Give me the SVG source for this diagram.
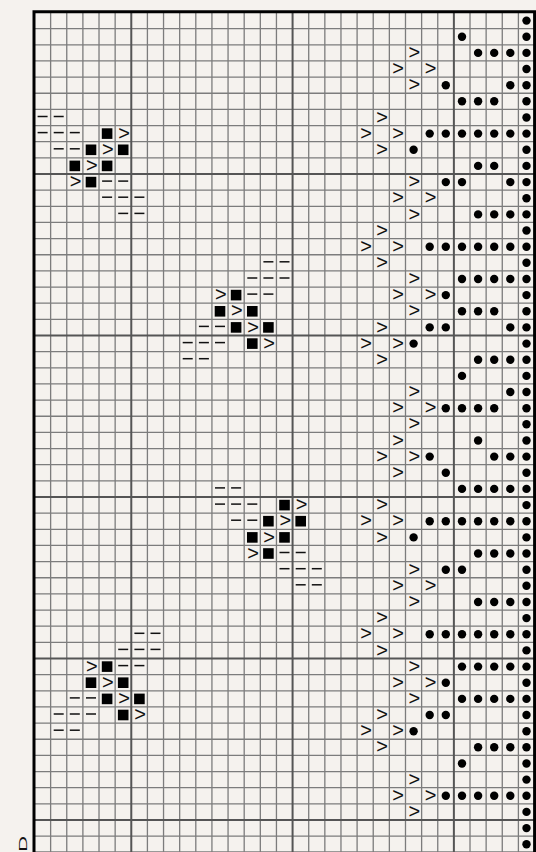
<svg xmlns="http://www.w3.org/2000/svg" xmlns:xlink="http://www.w3.org/1999/xlink" width="536" height="852" viewBox="0 0 536 852">
<style>
.thin{fill:none;stroke:#7c7c7c;stroke-width:1.3}
.thick{fill:none;stroke:#555;stroke-width:2}
.border{fill:none;stroke:#000;stroke-width:3}
.k{font-family:"Liberation Sans",Arial,sans-serif;font-size:20px;text-anchor:middle;fill:#111}
.lbl{font-family:"Liberation Sans",Arial,sans-serif;font-size:11.6px;text-anchor:middle;fill:#111}
</style>
<defs>
<circle id="d" r="4.2" fill="#000"/>
<rect id="s" x="-5.3" y="-5.3" width="10.6" height="10.6" fill="#000"/>
<line id="m" x1="-5" y1="-1" x2="5" y2="-1" stroke="#111" stroke-width="1.5"/>
</defs>
<rect width="536" height="852" fill="#F5F2EE"/>
<g id="grid">
<path class="thin" d="M34.5 28.65H534.5M34.5 44.8H534.5M34.5 60.95H534.5M34.5 77.1H534.5M34.5 93.25H534.5M34.5 109.4H534.5M34.5 125.55H534.5M34.5 141.7H534.5M34.5 157.85H534.5M34.5 190.15H534.5M34.5 206.3H534.5M34.5 222.45H534.5M34.5 238.6H534.5M34.5 254.75H534.5M34.5 270.9H534.5M34.5 287.05H534.5M34.5 303.2H534.5M34.5 319.35H534.5M34.5 351.65H534.5M34.5 367.8H534.5M34.5 383.95H534.5M34.5 400.1H534.5M34.5 416.25H534.5M34.5 432.4H534.5M34.5 448.55H534.5M34.5 464.7H534.5M34.5 480.85H534.5M34.5 513.15H534.5M34.5 529.3H534.5M34.5 545.45H534.5M34.5 561.6H534.5M34.5 577.75H534.5M34.5 593.9H534.5M34.5 610.05H534.5M34.5 626.2H534.5M34.5 642.35H534.5M34.5 674.65H534.5M34.5 690.8H534.5M34.5 706.95H534.5M34.5 723.1H534.5M34.5 739.25H534.5M34.5 755.4H534.5M34.5 771.55H534.5M34.5 787.7H534.5M34.5 803.85H534.5M34.5 836.15H534.5M34.5 851.8H534.5
M50.63 12V852M66.76 12V852M82.89 12V852M99.02 12V852M115.15 12V852M147.41 12V852M163.54 12V852M179.67 12V852M195.8 12V852M211.93 12V852M228.06 12V852M244.19 12V852M260.32 12V852M276.45 12V852M308.71 12V852M324.84 12V852M340.97 12V852M357.1 12V852M373.23 12V852M389.36 12V852M405.49 12V852M421.62 12V852M437.75 12V852M470.01 12V852M486.14 12V852M502.27 12V852M518.4 12V852"/>
<path class="thick" d="M34.5 174H534.5M34.5 335.5H534.5M34.5 497H534.5M34.5 658.5H534.5M34.5 820H534.5M131.28 12V852M292.58 12V852M453.88 12V852"/>
<path class="border" d="M34 852V11.8H534.6V852"/>
</g>
<g id="symbols">
<g transform="translate(0 20.6)"><use href="#d" x="526.5"/></g>
<g transform="translate(0 36.7)"><use href="#d" x="462"/><use href="#d" x="526.5"/></g>
<g transform="translate(0 52.9)"><text class="k" x="414.4" y="6.1">&gt;</text><use href="#d" x="478.1"/><use href="#d" x="494.2"/><use href="#d" x="510.3"/><use href="#d" x="526.5"/></g>
<g transform="translate(0 69)"><text class="k" x="398.2" y="6.1">&gt;</text><text class="k" x="430.5" y="6.1">&gt;</text><use href="#d" x="526.5"/></g>
<g transform="translate(0 85.2)"><text class="k" x="414.4" y="6.1">&gt;</text><use href="#d" x="445.8"/><use href="#d" x="510.3"/><use href="#d" x="526.5"/></g>
<g transform="translate(0 101.3)"><use href="#d" x="462"/><use href="#d" x="478.1"/><use href="#d" x="494.2"/><use href="#d" x="526.5"/></g>
<g transform="translate(0 117.5)"><use href="#m" x="42.6"/><use href="#m" x="58.7"/><text class="k" x="382.1" y="6.1">&gt;</text><use href="#d" x="526.5"/></g>
<g transform="translate(0 133.6)"><use href="#m" x="42.6"/><use href="#m" x="58.7"/><use href="#m" x="74.8"/><use href="#s" x="107.1"/><text class="k" x="124" y="6.1">&gt;</text><text class="k" x="366" y="6.1">&gt;</text><text class="k" x="398.2" y="6.1">&gt;</text><use href="#d" x="429.7"/><use href="#d" x="445.8"/><use href="#d" x="462"/><use href="#d" x="478.1"/><use href="#d" x="494.2"/><use href="#d" x="510.3"/><use href="#d" x="526.5"/></g>
<g transform="translate(0 149.8)"><use href="#m" x="58.7"/><use href="#m" x="74.8"/><use href="#s" x="91"/><text class="k" x="107.9" y="6.1">&gt;</text><use href="#s" x="123.2"/><text class="k" x="382.1" y="6.1">&gt;</text><use href="#d" x="413.6"/><use href="#d" x="526.5"/></g>
<g transform="translate(0 165.9)"><use href="#s" x="74.8"/><text class="k" x="91.8" y="6.1">&gt;</text><use href="#s" x="107.1"/><use href="#d" x="478.1"/><use href="#d" x="494.2"/><use href="#d" x="526.5"/></g>
<g transform="translate(0 182.1)"><text class="k" x="75.6" y="6.1">&gt;</text><use href="#s" x="91"/><use href="#m" x="107.1"/><use href="#m" x="123.2"/><text class="k" x="414.4" y="6.1">&gt;</text><use href="#d" x="445.8"/><use href="#d" x="462"/><use href="#d" x="510.3"/><use href="#d" x="526.5"/></g>
<g transform="translate(0 198.2)"><use href="#m" x="107.1"/><use href="#m" x="123.2"/><use href="#m" x="139.4"/><text class="k" x="398.2" y="6.1">&gt;</text><text class="k" x="430.5" y="6.1">&gt;</text><use href="#d" x="526.5"/></g>
<g transform="translate(0 214.4)"><use href="#m" x="123.2"/><use href="#m" x="139.4"/><text class="k" x="414.4" y="6.1">&gt;</text><use href="#d" x="478.1"/><use href="#d" x="494.2"/><use href="#d" x="510.3"/><use href="#d" x="526.5"/></g>
<g transform="translate(0 230.5)"><text class="k" x="382.1" y="6.1">&gt;</text><use href="#d" x="526.5"/></g>
<g transform="translate(0 246.7)"><text class="k" x="366" y="6.1">&gt;</text><text class="k" x="398.2" y="6.1">&gt;</text><use href="#d" x="429.7"/><use href="#d" x="445.8"/><use href="#d" x="462"/><use href="#d" x="478.1"/><use href="#d" x="494.2"/><use href="#d" x="510.3"/><use href="#d" x="526.5"/></g>
<g transform="translate(0 262.8)"><use href="#m" x="268.4"/><use href="#m" x="284.5"/><text class="k" x="382.1" y="6.1">&gt;</text><use href="#d" x="526.5"/></g>
<g transform="translate(0 279)"><use href="#m" x="252.3"/><use href="#m" x="268.4"/><use href="#m" x="284.5"/><text class="k" x="414.4" y="6.1">&gt;</text><use href="#d" x="462"/><use href="#d" x="478.1"/><use href="#d" x="494.2"/><use href="#d" x="510.3"/><use href="#d" x="526.5"/></g>
<g transform="translate(0 295.1)"><text class="k" x="220.8" y="6.1">&gt;</text><use href="#s" x="236.1"/><use href="#m" x="252.3"/><use href="#m" x="268.4"/><text class="k" x="398.2" y="6.1">&gt;</text><text class="k" x="430.5" y="6.1">&gt;</text><use href="#d" x="445.8"/><use href="#d" x="526.5"/></g>
<g transform="translate(0 311.3)"><use href="#s" x="220"/><text class="k" x="236.9" y="6.1">&gt;</text><use href="#s" x="252.3"/><text class="k" x="414.4" y="6.1">&gt;</text><use href="#d" x="462"/><use href="#d" x="478.1"/><use href="#d" x="494.2"/><use href="#d" x="526.5"/></g>
<g transform="translate(0 327.4)"><use href="#m" x="203.9"/><use href="#m" x="220"/><use href="#s" x="236.1"/><text class="k" x="253.1" y="6.1">&gt;</text><use href="#s" x="268.4"/><text class="k" x="382.1" y="6.1">&gt;</text><use href="#d" x="429.7"/><use href="#d" x="445.8"/><use href="#d" x="510.3"/><use href="#d" x="526.5"/></g>
<g transform="translate(0 343.6)"><use href="#m" x="187.7"/><use href="#m" x="203.9"/><use href="#m" x="220"/><use href="#s" x="252.3"/><text class="k" x="269.2" y="6.1">&gt;</text><text class="k" x="366" y="6.1">&gt;</text><text class="k" x="398.2" y="6.1">&gt;</text><use href="#d" x="413.6"/><use href="#d" x="526.5"/></g>
<g transform="translate(0 359.7)"><use href="#m" x="187.7"/><use href="#m" x="203.9"/><text class="k" x="382.1" y="6.1">&gt;</text><use href="#d" x="478.1"/><use href="#d" x="494.2"/><use href="#d" x="510.3"/><use href="#d" x="526.5"/></g>
<g transform="translate(0 375.9)"><use href="#d" x="462"/><use href="#d" x="526.5"/></g>
<g transform="translate(0 392)"><text class="k" x="414.4" y="6.1">&gt;</text><use href="#d" x="510.3"/><use href="#d" x="526.5"/></g>
<g transform="translate(0 408.2)"><text class="k" x="398.2" y="6.1">&gt;</text><text class="k" x="430.5" y="6.1">&gt;</text><use href="#d" x="445.8"/><use href="#d" x="462"/><use href="#d" x="478.1"/><use href="#d" x="494.2"/><use href="#d" x="526.5"/></g>
<g transform="translate(0 424.3)"><text class="k" x="414.4" y="6.1">&gt;</text><use href="#d" x="526.5"/></g>
<g transform="translate(0 440.5)"><text class="k" x="398.2" y="6.1">&gt;</text><use href="#d" x="478.1"/><use href="#d" x="526.5"/></g>
<g transform="translate(0 456.6)"><text class="k" x="382.1" y="6.1">&gt;</text><text class="k" x="414.4" y="6.1">&gt;</text><use href="#d" x="429.7"/><use href="#d" x="494.2"/><use href="#d" x="510.3"/><use href="#d" x="526.5"/></g>
<g transform="translate(0 472.8)"><text class="k" x="398.2" y="6.1">&gt;</text><use href="#d" x="445.8"/><use href="#d" x="526.5"/></g>
<g transform="translate(0 488.9)"><use href="#m" x="220"/><use href="#m" x="236.1"/><use href="#d" x="462"/><use href="#d" x="478.1"/><use href="#d" x="494.2"/><use href="#d" x="510.3"/><use href="#d" x="526.5"/></g>
<g transform="translate(0 505.1)"><use href="#m" x="220"/><use href="#m" x="236.1"/><use href="#m" x="252.3"/><use href="#s" x="284.5"/><text class="k" x="301.5" y="6.1">&gt;</text><text class="k" x="382.1" y="6.1">&gt;</text><use href="#d" x="526.5"/></g>
<g transform="translate(0 521.2)"><use href="#m" x="236.1"/><use href="#m" x="252.3"/><use href="#s" x="268.4"/><text class="k" x="285.3" y="6.1">&gt;</text><use href="#s" x="300.7"/><text class="k" x="366" y="6.1">&gt;</text><text class="k" x="398.2" y="6.1">&gt;</text><use href="#d" x="429.7"/><use href="#d" x="445.8"/><use href="#d" x="462"/><use href="#d" x="478.1"/><use href="#d" x="494.2"/><use href="#d" x="510.3"/><use href="#d" x="526.5"/></g>
<g transform="translate(0 537.4)"><use href="#s" x="252.3"/><text class="k" x="269.2" y="6.1">&gt;</text><use href="#s" x="284.5"/><text class="k" x="382.1" y="6.1">&gt;</text><use href="#d" x="413.6"/><use href="#d" x="526.5"/></g>
<g transform="translate(0 553.5)"><text class="k" x="253.1" y="6.1">&gt;</text><use href="#s" x="268.4"/><use href="#m" x="284.5"/><use href="#m" x="300.7"/><use href="#d" x="478.1"/><use href="#d" x="494.2"/><use href="#d" x="510.3"/><use href="#d" x="526.5"/></g>
<g transform="translate(0 569.7)"><use href="#m" x="284.5"/><use href="#m" x="300.7"/><use href="#m" x="316.8"/><text class="k" x="414.4" y="6.1">&gt;</text><use href="#d" x="445.8"/><use href="#d" x="462"/><use href="#d" x="526.5"/></g>
<g transform="translate(0 585.8)"><use href="#m" x="300.7"/><use href="#m" x="316.8"/><text class="k" x="398.2" y="6.1">&gt;</text><text class="k" x="430.5" y="6.1">&gt;</text><use href="#d" x="526.5"/></g>
<g transform="translate(0 602)"><text class="k" x="414.4" y="6.1">&gt;</text><use href="#d" x="478.1"/><use href="#d" x="494.2"/><use href="#d" x="510.3"/><use href="#d" x="526.5"/></g>
<g transform="translate(0 618.1)"><text class="k" x="382.1" y="6.1">&gt;</text><use href="#d" x="526.5"/></g>
<g transform="translate(0 634.3)"><use href="#m" x="139.4"/><use href="#m" x="155.5"/><text class="k" x="366" y="6.1">&gt;</text><text class="k" x="398.2" y="6.1">&gt;</text><use href="#d" x="429.7"/><use href="#d" x="445.8"/><use href="#d" x="462"/><use href="#d" x="478.1"/><use href="#d" x="494.2"/><use href="#d" x="510.3"/><use href="#d" x="526.5"/></g>
<g transform="translate(0 650.4)"><use href="#m" x="123.2"/><use href="#m" x="139.4"/><use href="#m" x="155.5"/><text class="k" x="382.1" y="6.1">&gt;</text><use href="#d" x="526.5"/></g>
<g transform="translate(0 666.6)"><text class="k" x="91.8" y="6.1">&gt;</text><use href="#s" x="107.1"/><use href="#m" x="123.2"/><use href="#m" x="139.4"/><text class="k" x="414.4" y="6.1">&gt;</text><use href="#d" x="462"/><use href="#d" x="478.1"/><use href="#d" x="494.2"/><use href="#d" x="510.3"/><use href="#d" x="526.5"/></g>
<g transform="translate(0 682.7)"><use href="#s" x="91"/><text class="k" x="107.9" y="6.1">&gt;</text><use href="#s" x="123.2"/><text class="k" x="398.2" y="6.1">&gt;</text><text class="k" x="430.5" y="6.1">&gt;</text><use href="#d" x="445.8"/><use href="#d" x="526.5"/></g>
<g transform="translate(0 698.9)"><use href="#m" x="74.8"/><use href="#m" x="91"/><use href="#s" x="107.1"/><text class="k" x="124" y="6.1">&gt;</text><use href="#s" x="139.4"/><text class="k" x="414.4" y="6.1">&gt;</text><use href="#d" x="462"/><use href="#d" x="478.1"/><use href="#d" x="494.2"/><use href="#d" x="510.3"/><use href="#d" x="526.5"/></g>
<g transform="translate(0 715)"><use href="#m" x="58.7"/><use href="#m" x="74.8"/><use href="#m" x="91"/><use href="#s" x="123.2"/><text class="k" x="140.2" y="6.1">&gt;</text><text class="k" x="382.1" y="6.1">&gt;</text><use href="#d" x="429.7"/><use href="#d" x="445.8"/><use href="#d" x="526.5"/></g>
<g transform="translate(0 731.2)"><use href="#m" x="58.7"/><use href="#m" x="74.8"/><text class="k" x="366" y="6.1">&gt;</text><text class="k" x="398.2" y="6.1">&gt;</text><use href="#d" x="413.6"/><use href="#d" x="526.5"/></g>
<g transform="translate(0 747.3)"><text class="k" x="382.1" y="6.1">&gt;</text><use href="#d" x="478.1"/><use href="#d" x="494.2"/><use href="#d" x="510.3"/><use href="#d" x="526.5"/></g>
<g transform="translate(0 763.5)"><use href="#d" x="462"/><use href="#d" x="526.5"/></g>
<g transform="translate(0 779.6)"><text class="k" x="414.4" y="6.1">&gt;</text><use href="#d" x="526.5"/></g>
<g transform="translate(0 795.8)"><text class="k" x="398.2" y="6.1">&gt;</text><text class="k" x="430.5" y="6.1">&gt;</text><use href="#d" x="445.8"/><use href="#d" x="462"/><use href="#d" x="478.1"/><use href="#d" x="494.2"/><use href="#d" x="510.3"/><use href="#d" x="526.5"/></g>
<g transform="translate(0 811.9)"><text class="k" x="414.4" y="6.1">&gt;</text><use href="#d" x="526.5"/></g>
<g transform="translate(0 828.1)"><use href="#d" x="526.5"/></g>
<g transform="translate(0 844.2)"><use href="#d" x="526.5"/></g>
</g>
<text class="lbl" transform="translate(26.7 843.7) rotate(-90) scale(1.9 1)">D</text>
</svg>
